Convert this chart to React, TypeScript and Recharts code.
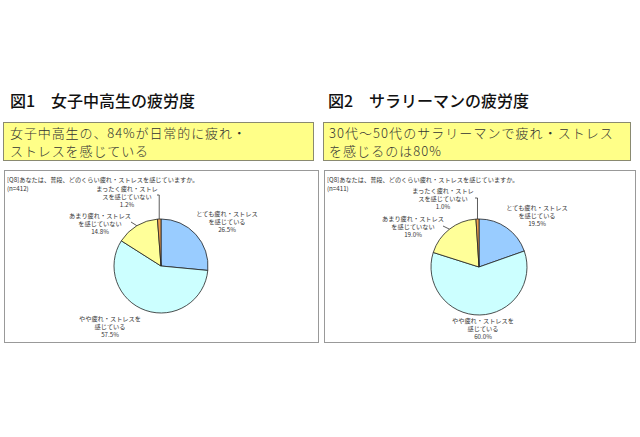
import React from 'react';
import { PieChart, Pie, Cell } from 'recharts';

// ---- data ----
const categories = [
  'とても疲れ・ストレスを感じている',
  'やや疲れ・ストレスを感じている',
  'あまり疲れ・ストレスを感じていない',
  'まったく疲れ・ストレスを感じていない',
];
const categoryLines = [
  ['とても疲れ・ストレス', 'を感じている'],
  ['やや疲れ・ストレスを', '感じている'],
  ['あまり疲れ・ストレス', 'を感じていない'],
  ['まったく疲れ・ストレ', 'スを感じていない'],
];
const girlsValues = [26.5, 57.5, 14.8, 1.2];
const menValues = [19.5, 60.0, 19.0, 1.0];

const titles = ['図1　女子中高生の疲労度', '図2　サラリーマンの疲労度'];
const summaries = [
  ['女子中高生の、84%が日常的に疲れ・', 'ストレスを感じている'],
  ['30代〜50代のサラリーマンで疲れ・ストレス', 'を感じるのは80%'],
];
const question = '[Q8]あなたは、普段、どのくらい疲れ・ストレスを感じていますか。';
const sampleSizes = ['(n=412)', '(n=411)'];

// ---- styles / layout ----
const colors = ['#99CCFF', '#CCFFFF', '#FFFF99', '#F0A050'];
const FONT = '"Noto Sans CJK JP", "Noto Sans", sans-serif';

type LabelLayout = { dx: number; dy: number; leader?: { ax: number; ay: number; elbow?: boolean } };

const girlsLabelLayout: LabelLayout[] = [
  { dx: 66, dy: -53 },
  { dx: -51, dy: 52 },
  { dx: -61, dy: -51, leader: { ax: 31, ay: 7 } },
  { dx: -34, dy: -78, leader: { ax: 30, ay: 7, elbow: true } },
];
const menLabelLayout: LabelLayout[] = [
  { dx: 58, dy: -60 },
  { dx: 4, dy: 53 },
  { dx: -66, dy: -49, leader: { ax: 30, ay: 8 } },
  { dx: -36, dy: -77, leader: { ax: 32, ay: 8, elbow: true } },
];

const RAD = Math.PI / 180;

function makeLabel(layout: LabelLayout[]) {
  return (props: any) => {
    const { cx, cy, midAngle, outerRadius, index, value } = props;
    const l = layout[index];
    const x = cx + l.dx;
    const y = cy + l.dy;
    const lines = categoryLines[index];
    let leader: React.ReactNode = null;
    if (l.leader) {
      const ex = cx + outerRadius * Math.cos(-midAngle * RAD);
      const ey = cy + outerRadius * Math.sin(-midAngle * RAD);
      const ax = x + l.leader.ax;
      const ay = y + l.leader.ay;
      const pts = l.leader.elbow
        ? `${ax},${ay} ${ex},${ay} ${ex},${ey}`
        : `${ax},${ay} ${ex},${ey}`;
      leader = <polyline points={pts} fill="none" stroke="#333" strokeWidth={0.8} />;
    }
    return (
      <g>
        {leader}
        <text x={x} y={y} textAnchor="middle" fontSize={6.2} fill="#333" fontFamily={FONT} dominantBaseline="central">
          <tspan x={x} dy={0}>{lines[0]}</tspan>
          <tspan x={x} dy={8.2}>{lines[1]}</tspan>
          <tspan x={x} dy={8.2}>{Number(value).toFixed(1)}%</tspan>
        </text>
      </g>
    );
  };
}

type PanelProps = {
  title: string;
  summary: string[];
  n: string;
  values: number[];
  labelLayout: LabelLayout[];
  titleLeft: number;
  boxLeft: number;
  boxWidth: number;
  boxPadLeft: number;
  chartLeft: number;
  chartWidth: number;
  cx: number;
  cy: number;
  r: number;
  summarySpacing: number;
};

function Panel(p: PanelProps) {
  const data = categories.map((c, i) => ({ name: c, value: p.values[i] }));
  return (
    <>
      <div
        style={{
          position: 'absolute', left: p.titleLeft, top: 90, fontSize: 16, lineHeight: '20px',
          fontFamily: FONT, color: '#111', whiteSpace: 'nowrap', fontWeight: 500,
        }}
      >
        {p.title}
      </div>
      <div
        style={{
          position: 'absolute', left: p.boxLeft, top: 122, width: p.boxWidth, height: 39,
          boxSizing: 'border-box', background: '#FFFF88', border: '1px solid #8a8a70',
          fontFamily: FONT, fontSize: 13, lineHeight: '17.5px', color: '#333',
          letterSpacing: p.summarySpacing,
          padding: `1px 0 0 ${p.boxPadLeft}px`, whiteSpace: 'nowrap', fontWeight: 300,
        }}
      >
        {p.summary.map((s, i) => (
          <div key={i}>{s}</div>
        ))}
      </div>
      <div
        style={{
          position: 'absolute', left: p.chartLeft, top: 170, width: p.chartWidth, height: 173,
          boxSizing: 'border-box', border: '1px solid #999', background: '#fff',
        }}
      >
        <div style={{ position: 'absolute', left: 2, top: 4, fontSize: 6.2, lineHeight: '9px', fontFamily: FONT, color: '#333', whiteSpace: 'nowrap' }}>
          {question}
        </div>
        <div style={{ position: 'absolute', left: 2, top: 13, fontSize: 6.2, lineHeight: '9px', fontFamily: FONT, color: '#333', whiteSpace: 'nowrap' }}>
          {p.n}
        </div>
        <div style={{ position: 'absolute', left: -1, top: -1 }}>
          <PieChart width={p.chartWidth} height={173} margin={{ top: 0, right: 0, bottom: 0, left: 0 }}>
            <Pie
              data={data}
              dataKey="value"
              nameKey="name"
              cx={p.cx}
              cy={p.cy}
              outerRadius={p.r}
              startAngle={90}
              endAngle={-270}
              stroke="#222"
              strokeWidth={0.8}
              isAnimationActive={false}
              labelLine={false}
              label={makeLabel(p.labelLayout)}
            >
              {data.map((d, i) => (
                <Cell key={d.name} fill={colors[i]} />
              ))}
            </Pie>
          </PieChart>
        </div>
      </div>
    </>
  );
}

export default function App() {
  return (
    <div style={{ position: 'absolute', left: 0, top: 0, width: 640, height: 437, background: '#fff', overflow: 'hidden' }}>
      <Panel
        title={titles[0]}
        summary={summaries[0]}
        n={sampleSizes[0]}
        values={girlsValues}
        labelLayout={girlsLabelLayout}
        titleLeft={10}
        boxLeft={3}
        boxWidth={311}
        boxPadLeft={6}
        chartLeft={4}
        chartWidth={315}
        cx={157}
        cy={96}
        r={47}
        summarySpacing={0.9}
      />
      <Panel
        title={titles[1]}
        summary={summaries[1]}
        n={sampleSizes[1]}
        values={menValues}
        labelLayout={menLabelLayout}
        titleLeft={328}
        boxLeft={323}
        boxWidth={308}
        boxPadLeft={5}
        chartLeft={324}
        chartWidth={312}
        cx={155}
        cy={97}
        r={48}
        summarySpacing={1.05}
      />
    </div>
  );
}
